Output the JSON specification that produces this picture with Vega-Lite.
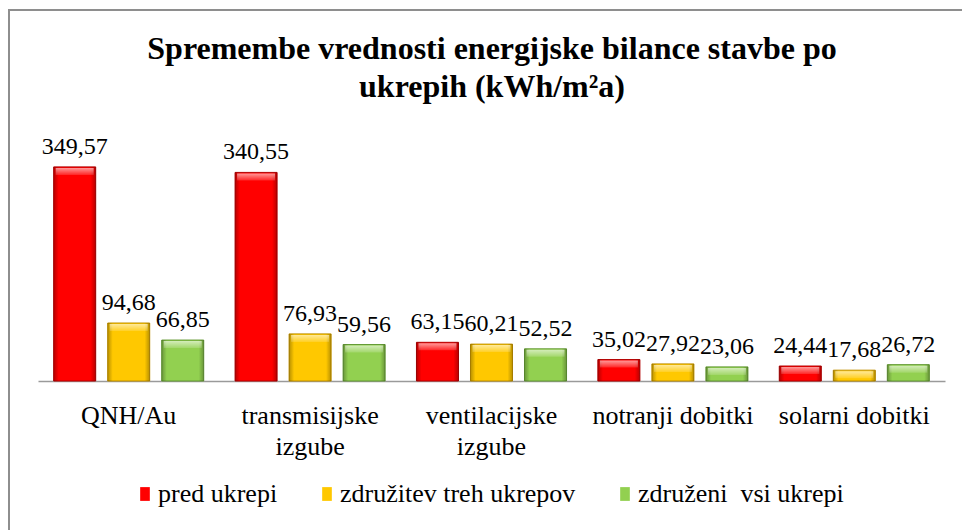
{
  "$schema": "https://vega.github.io/schema/vega-lite/v6.json",
  "width": 970,
  "height": 530,
  "autosize": {"type": "none"},
  "padding": {"left": 9, "top": 10, "right": 0, "bottom": 0},
  "background": "white",
  "title": {
    "text": ["Spremembe vrednosti energijske bilance stavbe po", "ukrepih (kWh/m²a)"],
    "font": "Liberation Serif, Times New Roman, serif",
    "fontSize": 32,
    "fontWeight": "bold",
    "color": "black",
    "anchor": "middle",
    "dx": -2,
    "offset": -94,
    "lineHeight": 38
  },
  "data": {
    "values": [
      {"cat": "QNH/Au", "series": "pred ukrepi", "value": 349.57},
      {"cat": "QNH/Au", "series": "združitev treh ukrepov", "value": 94.68},
      {"cat": "QNH/Au", "series": "združeni\u00a0 vsi ukrepi", "value": 66.85},
      {"cat": "transmisijske izgube", "series": "pred ukrepi", "value": 340.55},
      {"cat": "transmisijske izgube", "series": "združitev treh ukrepov", "value": 76.93},
      {"cat": "transmisijske izgube", "series": "združeni\u00a0 vsi ukrepi", "value": 59.56},
      {"cat": "ventilacijske izgube", "series": "pred ukrepi", "value": 63.15},
      {"cat": "ventilacijske izgube", "series": "združitev treh ukrepov", "value": 60.21},
      {"cat": "ventilacijske izgube", "series": "združeni\u00a0 vsi ukrepi", "value": 52.52},
      {"cat": "notranji dobitki", "series": "pred ukrepi", "value": 35.02},
      {"cat": "notranji dobitki", "series": "združitev treh ukrepov", "value": 27.92},
      {"cat": "notranji dobitki", "series": "združeni\u00a0 vsi ukrepi", "value": 23.06},
      {"cat": "solarni dobitki", "series": "pred ukrepi", "value": 24.44},
      {"cat": "solarni dobitki", "series": "združitev treh ukrepov", "value": 17.68},
      {"cat": "solarni dobitki", "series": "združeni\u00a0 vsi ukrepi", "value": 26.72}
    ]
  },
  "encoding": {
    "x": {
      "field": "cat",
      "type": "nominal",
      "sort": ["QNH/Au", "transmisijske izgube", "ventilacijske izgube", "notranji dobitki", "solarni dobitki"],
      "scale": {"range": [29, 936], "paddingInner": 0, "paddingOuter": 0},
      "axis": {
        "title": null,
        "orient": "bottom",
        "offset": -159,
        "ticks": false,
        "grid": false,
        "labelAngle": 0,
        "labelFont": "Liberation Serif, Times New Roman, serif",
        "labelFontSize": 26,
        "labelColor": "black",
        "labelPadding": 21,
        "labelLineHeight": 31,
        "labelLimit": 0,
        "labelBaseline": "top",
        "labelOverlap": false,
        "domainColor": "#9a9a9a",
        "domainWidth": 1.5,
        "labelExpr": "test(/izgube/, datum.label) ? split(datum.label, ' ') : datum.label"
      }
    },
    "xOffset": {
      "field": "series",
      "type": "nominal",
      "sort": ["pred ukrepi", "združitev treh ukrepov", "združeni\u00a0 vsi ukrepi"],
      "scale": {"paddingInner": 0.222, "paddingOuter": 0.29}
    },
    "y": {
      "field": "value",
      "type": "quantitative",
      "scale": {"domain": [0, 400], "range": [371, 126], "nice": false},
      "axis": null
    }
  },
  "layer": [
    {
      "mark": {"type": "bar", "strokeWidth": 1, "opacity": 1},
      "encoding": {
        "color": {
          "field": "series",
          "type": "nominal",
          "sort": ["pred ukrepi", "združitev treh ukrepov", "združeni\u00a0 vsi ukrepi"],
          "scale": {
            "domain": ["pred ukrepi", "združitev treh ukrepov", "združeni\u00a0 vsi ukrepi"],
            "range": ["#ff0000", "#ffc800", "#92d050"]
          },
          "legend": {
            "title": null,
            "orient": "none",
            "legendX": 123,
            "legendY": 471,
            "direction": "horizontal",
            "symbolType": "M-0.7,-1H0.7V1H-0.7Z",
            "symbolSize": 190,
            "symbolStrokeWidth": 0,
            "labelFont": "Liberation Serif, Times New Roman, serif",
            "labelFontSize": 26,
            "labelColor": "black",
            "labelLimit": 0,
            "labelOffset": 0,
            "columnPadding": 36,
            "padding": 0
          }
        },
        "stroke": {
          "field": "series",
          "type": "nominal",
          "scale": {
            "domain": ["pred ukrepi", "združitev treh ukrepov", "združeni\u00a0 vsi ukrepi"],
            "range": ["#b30000", "#c09000", "#649a34"]
          },
          "legend": null
        }
      }
    },
    {
      "mark": {
        "type": "bar",
        "strokeWidth": 0,
        "fill": {
          "gradient": "linear",
          "x1": 0, "x2": 1, "y1": 0, "y2": 0,
          "stops": [
            {"offset": 0, "color": "rgba(0,0,0,0.28)"},
            {"offset": 0.12, "color": "rgba(0,0,0,0)"},
            {"offset": 0.88, "color": "rgba(0,0,0,0)"},
            {"offset": 1, "color": "rgba(0,0,0,0.28)"}
          ]
        }
      }
    },
    {
      "mark": {
        "type": "tick",
        "thickness": 7,
        "size": 38,
        "yOffset": 4.5,
        "opacity": 1,
        "fill": {
          "gradient": "linear",
          "x1": 0, "x2": 0, "y1": 0, "y2": 1,
          "stops": [
            {"offset": 0, "color": "rgba(255,255,255,0.6)"},
            {"offset": 1, "color": "rgba(255,255,255,0.15)"}
          ]
        }
      }
    },
    {
      "mark": {
        "type": "text",
        "font": "Liberation Serif, Times New Roman, serif",
        "fontSize": 24,
        "color": "black",
        "baseline": "alphabetic",
        "dy": -13
      },
      "encoding": {
        "text": {"field": "value", "type": "quantitative", "format": ".2f"}
      }
    }
  ],
  "config": {
    "view": {"stroke": "#8e8e8e", "strokeWidth": 2},
    "font": "Liberation Serif, Times New Roman, serif",
    "locale": {
      "number": {"decimal": ",", "thousands": ".", "grouping": [3], "currency": ["", " €"]}
    }
  }
}
